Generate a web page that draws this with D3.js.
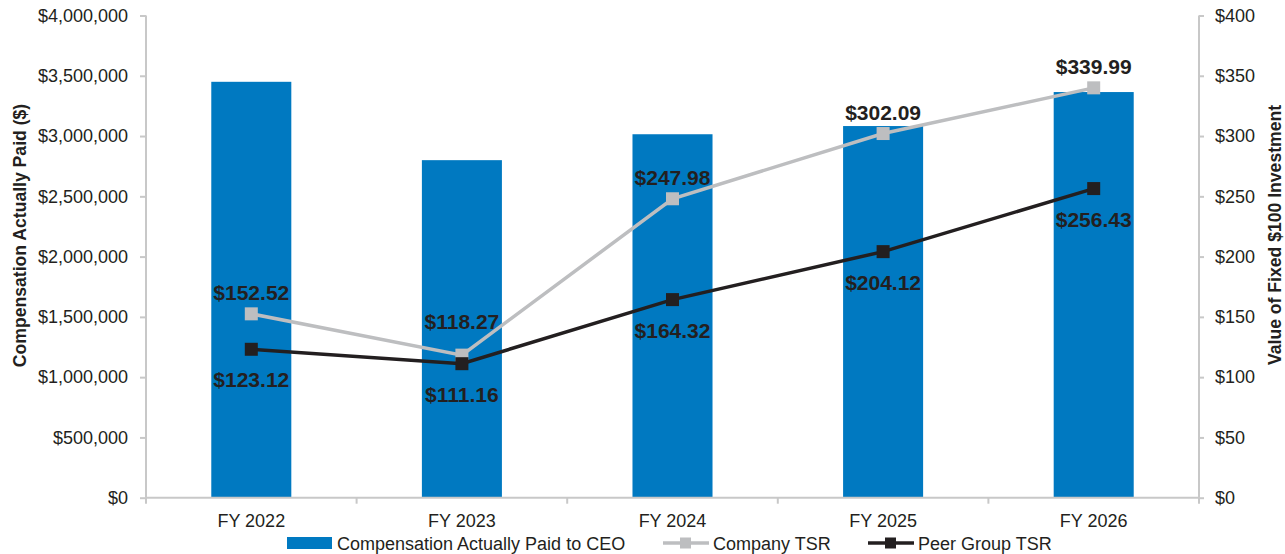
<!DOCTYPE html>
<html>
<head>
<meta charset="utf-8">
<script src="https://cdn.jsdelivr.net/npm/d3@7"></script>
<style>
  body { margin: 0; background: #fff; }
  text { font-family: "Liberation Sans", Arial, Helvetica, sans-serif; fill: #231f20; }
</style>
</head>
<body>
<div id="chart"></div>
<script>
const years = ["FY 2022", "FY 2023", "FY 2024", "FY 2025", "FY 2026"];
const capValues = [3450000, 2800000, 3015000, 3083000, 3365000];
const companyTsr = [152.52, 118.27, 247.98, 302.09, 339.99];
const peerTsr = [123.12, 111.16, 164.32, 204.12, 256.43];
const leftTicks = [0, 500000, 1000000, 1500000, 2000000, 2500000, 3000000, 3500000, 4000000];
const rightTicks = [0, 50, 100, 150, 200, 250, 300, 350, 400];

const width = 1285, height = 554;
const margin = { top: 15.5, right: 86, bottom: 56, left: 146 };
const blue = "#0079c1", gray = "#bdbec0", dark = "#231f20", axisGray = "#c8c8c8";

const svg = d3.select("#chart").append("svg")
  .attr("width", width).attr("height", height);

const x = d3.scaleBand().domain(years)
  .range([margin.left, width - margin.right]).paddingInner(0.62).paddingOuter(0.31);
const yL = d3.scaleLinear().domain([0, 4000000]).range([height - margin.bottom - 0.3, margin.top]);
const yR = d3.scaleLinear().domain([0, 400]).range([height - margin.bottom - 0.3, margin.top]);

// bars
svg.selectAll("rect.bar").data(years).enter().append("rect")
  .attr("class", "bar")
  .attr("x", d => x(d))
  .attr("width", x.bandwidth())
  .attr("y", (d, i) => yL(capValues[i]))
  .attr("height", (d, i) => yL(0) - yL(capValues[i]))
  .attr("fill", blue);

// left axis
const fmtMoney = d3.format("$,");
const gL = svg.append("g").attr("transform", `translate(${margin.left},0)`)
  .call(d3.axisLeft(yL).tickValues(leftTicks).tickFormat(fmtMoney).tickSize(6).tickPadding(12));
// right axis
const gR = svg.append("g").attr("transform", `translate(${width - margin.right},0)`)
  .call(d3.axisRight(yR).tickValues(rightTicks).tickFormat(d => "$" + d).tickSize(5).tickPadding(11));
[gL, gR].forEach(g => {
  g.select(".domain").attr("stroke", axisGray).attr("stroke-width", 2)
    .attr("d", g === gL ? `M0,${yL(0)}V${yL(4000000)}` : `M0,${yR(0)}V${yR(400)}`);
  g.selectAll(".tick line").attr("stroke", axisGray).attr("stroke-width", 2);
  g.selectAll(".tick text").attr("font-size", 18).attr("fill", dark)
    .style("font-family", '"Liberation Sans", Arial, sans-serif');
});

// bottom axis: category boundaries as ticks
const step = x.step();
const bounds = d3.range(years.length + 1).map(i => margin.left + i * step);
svg.append("line")
  .attr("x1", margin.left).attr("x2", width - margin.right)
  .attr("y1", yL(0)).attr("y2", yL(0))
  .attr("stroke", axisGray).attr("stroke-width", 2);
svg.selectAll("line.xtick").data(bounds).enter().append("line")
  .attr("class", "xtick")
  .attr("x1", d => d).attr("x2", d => d)
  .attr("y1", yL(0)).attr("y2", yL(0) + 6)
  .attr("stroke", axisGray).attr("stroke-width", 2);
svg.selectAll("text.xlab").data(years).enter().append("text")
  .attr("class", "xlab")
  .attr("x", d => x(d) + x.bandwidth() / 2)
  .attr("y", 527)
  .attr("text-anchor", "middle")
  .attr("font-size", 18)
  .text(d => d);

// axis titles
svg.append("text")
  .attr("transform", `translate(26,235.5) rotate(-90)`)
  .attr("text-anchor", "middle")
  .attr("font-size", 17.6).attr("font-weight", "bold")
  .text("Compensation Actually Paid ($)");
svg.append("text")
  .attr("transform", `translate(1281,235) rotate(-90)`)
  .attr("text-anchor", "middle")
  .attr("font-size", 17.6).attr("font-weight", "bold")
  .text("Value of Fixed $100 Investment");

// lines
const cx = d => x(d) + x.bandwidth() / 2;
function drawSeries(values, color) {
  const line = d3.line().x((d, i) => cx(years[i])).y(d => yR(d));
  svg.append("path").datum(values)
    .attr("d", line).attr("fill", "none")
    .attr("stroke", color).attr("stroke-width", 3.5);
  svg.selectAll(null).data(values).enter().append("rect")
    .attr("x", (d, i) => cx(years[i]) - 6.5)
    .attr("y", d => yR(d) - 6.5)
    .attr("width", 13).attr("height", 13)
    .attr("fill", color);
}
drawSeries(companyTsr, gray);
drawSeries(peerTsr, dark);

// data labels
const fmtLab = d => "$" + d3.format(".2f")(d);
svg.selectAll("text.clab").data(companyTsr).enter().append("text")
  .attr("class", "clab")
  .attr("x", (d, i) => cx(years[i]))
  .attr("y", (d, i) => yR(d) - (Math.abs(d - peerTsr[i]) < 15 ? 26 : 14))
  .attr("text-anchor", "middle")
  .attr("font-size", 21).attr("font-weight", "bold")
  .text(fmtLab);
svg.selectAll("text.plab").data(peerTsr).enter().append("text")
  .attr("class", "plab")
  .attr("x", (d, i) => cx(years[i]))
  .attr("y", d => yR(d) + 38)
  .attr("text-anchor", "middle")
  .attr("font-size", 21).attr("font-weight", "bold")
  .text(fmtLab);

// legend
const leg = svg.append("g").attr("transform", "translate(0,543)");
leg.append("rect").attr("x", 287).attr("y", -6).attr("width", 45).attr("height", 12).attr("fill", blue);
leg.append("text").attr("x", 337).attr("y", 6.5).attr("font-size", 18).text("Compensation Actually Paid to CEO");
[[663, gray, "Company TSR"], [868, dark, "Peer Group TSR"]].forEach(([lx, c, t]) => {
  leg.append("line").attr("x1", lx).attr("x2", lx + 46).attr("y1", 0).attr("y2", 0)
    .attr("stroke", c).attr("stroke-width", 3.5);
  leg.append("rect").attr("x", lx + 17).attr("y", -5.5).attr("width", 11).attr("height", 11).attr("fill", c);
  leg.append("text").attr("x", lx + 50).attr("y", 6.5).attr("font-size", 18).text(t);
});
</script>
</body>
</html>
